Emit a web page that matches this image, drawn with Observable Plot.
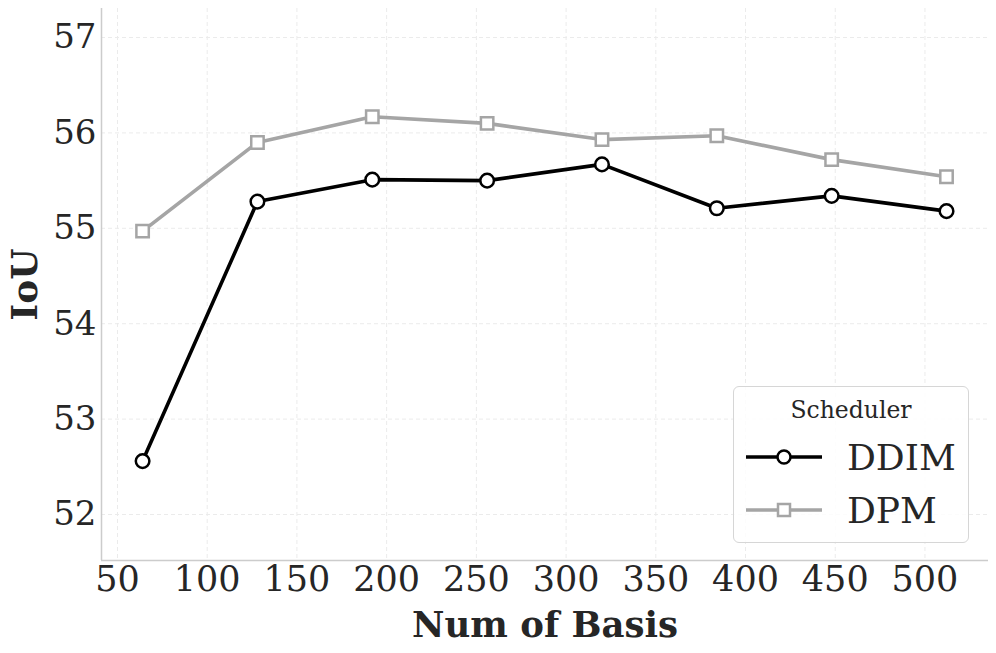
<!DOCTYPE html>
<html><head><meta charset="utf-8">
<script src="https://cdn.jsdelivr.net/npm/d3@7"></script>
<script src="https://cdn.jsdelivr.net/npm/@observablehq/plot@0.6"></script>
<style>
body{margin:0;background:#fff;}
#wrap{position:relative;width:996px;height:653px;font-family:"DejaVu Serif",serif;}
#legend{position:absolute;left:733px;top:386px;width:236px;height:157px;border:1.3px solid #d6d6d6;border-radius:6px;background:rgba(255,255,255,0.85);box-sizing:border-box;}
#legend .title{position:absolute;left:0;width:100%;top:9px;text-align:center;font-size:23.5px;color:#262626;}
#legend .item{position:absolute;left:11px;height:42px;display:flex;align-items:center;}
#legend .item span{font-size:36px;color:#262626;margin-left:24px;}
</style></head>
<body><div id="wrap"><div id="chart"></div>
<div id="legend"><div class="title">Scheduler</div>
<div class="item" style="top:49px"><svg width="78" height="20"><line x1="1" x2="77" y1="10" y2="10" stroke="#000" stroke-width="3.5"/><circle cx="39" cy="10" r="6.5" fill="#fff" stroke="#000" stroke-width="2.5"/></svg><span>DDIM</span></div>
<div class="item" style="top:102px"><svg width="78" height="20"><line x1="1" x2="77" y1="10" y2="10" stroke="#a5a5a5" stroke-width="3.5"/><rect x="33" y="4" width="12" height="12" fill="#fff" stroke="#a5a5a5" stroke-width="2.5"/></svg><span>DPM</span></div>
</div></div>
<script>
const basis = [64, 128, 192, 256, 320, 384, 448, 512];
const ddim = [52.56, 55.28, 55.51, 55.50, 55.67, 55.21, 55.34, 55.18];
const dpm = [54.97, 55.90, 56.17, 56.10, 55.93, 55.97, 55.72, 55.54];
const xTicks = [50, 100, 150, 200, 250, 300, 350, 400, 450, 500];
const yTicks = [52, 53, 54, 55, 56, 57];

const rows = [
  ...basis.map((b, i) => ({b, v: ddim[i], s: "DDIM"})),
  ...basis.map((b, i) => ({b, v: dpm[i], s: "DPM"}))
];
const colors = {DDIM: "#000000", DPM: "#a5a5a5"};
const xDom = [41.1, 535.4], yDom = [51.518, 57.304];

const chart = Plot.plot({
  width: 996, height: 653,
  marginLeft: 101, marginRight: 8, marginTop: 8, marginBottom: 93,
  style: {fontFamily: "DejaVu Serif, serif", background: "#fff", overflow: "visible"},
  x: {domain: xDom},
  y: {domain: yDom},
  marks: [
    Plot.ruleX(xTicks, {stroke: "#ebebeb", strokeDasharray: "4,3", strokeWidth: 1}),
    Plot.ruleY(yTicks, {stroke: "#ebebeb", strokeDasharray: "4,3", strokeWidth: 1}),
    Plot.ruleX([xDom[0]], {stroke: "#cccccc", strokeWidth: 1.5}),
    Plot.ruleY([yDom[0]], {stroke: "#cccccc", strokeWidth: 1.5}),
    Plot.axisX(xTicks, {tickSize: 0, tickPadding: 6, fontSize: 35, fill: "#262626", label: null, tickFormat: d => String(d)}),
    Plot.axisY(yTicks, {tickSize: 0, tickPadding: 5, fontSize: 34, fill: "#262626", label: null, tickFormat: d => String(d)}),
    Plot.line(rows, {x: "b", y: "v", z: "s", stroke: d => colors[d.s], strokeWidth: 3.6}),
    Plot.dot(rows.filter(d => d.s === "DDIM"), {x: "b", y: "v", r: 6.8, symbol: "circle", fill: "#fff", stroke: "#000", strokeWidth: 2.5}),
    Plot.dot(rows.filter(d => d.s === "DPM"), {x: "b", y: "v", r: 7, symbol: "square", fill: "#fff", stroke: "#a5a5a5", strokeWidth: 2.5}),
    Plot.text(["Num of Basis"], {frameAnchor: "bottom", dy: 65, fontSize: 35.5, fontWeight: "bold", fill: "#262626", lineAnchor: "middle", textAnchor: "middle"}),
    Plot.text(["IoU"], {frameAnchor: "left", dx: -76, rotate: -90, fontSize: 36, fontWeight: "bold", fill: "#262626", lineAnchor: "middle", textAnchor: "middle"})
  ]
});
document.getElementById("chart").appendChild(chart);
</script></body></html>
